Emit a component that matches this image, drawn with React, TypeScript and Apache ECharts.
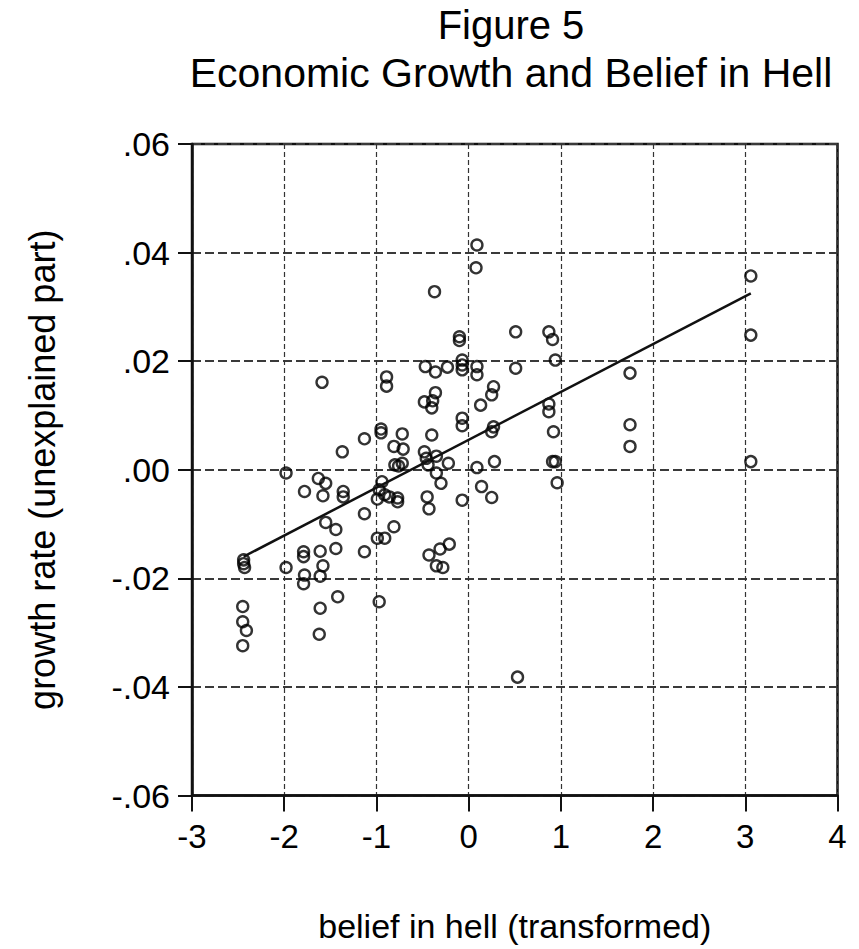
import React, { useEffect, useRef } from "react";
import * as echarts from "echarts";

// Belief in hell (transformed) — x values
const beliefInHell: number[] = [
  0.09, 0.08, -0.37, -0.10, -0.10, -0.07, -0.07, -0.07, -0.47, -0.36,
  -0.23, 0.09, 0.09, -1.59, -0.89, -0.89, 0.27, 0.25, 0.13, -0.36,
  -0.48, -0.39, -0.40, -0.07, -0.07, 0.27, 0.25, -0.95, -0.95, -0.72,
  -0.40, -1.13, -0.81, -0.71, -1.37, -0.48, -0.46, -0.35, -0.22, 0.09,
  0.28, -0.80, -0.72, -0.44, -0.76, -1.98, -1.63, -1.55, -1.78, -1.58,
  -1.36, -1.36, -0.35, -0.30, -0.94, -0.97, -0.91, -0.99, -0.86, -0.77,
  -0.77, -0.45, -0.43, -0.07, 0.14, 0.25, -1.55, -1.44, -1.13, -0.81,
  -0.99, -0.91, -1.79, -1.79, -1.61, -1.44, -1.13, -2.44, -2.44, -2.43,
  -1.98, -1.58, -1.78, -1.79, -1.61, -0.43, -0.31, -0.21, -0.35, -0.28,
  -1.42, -1.61, -0.97, -2.45, -2.45, -2.41, -2.45, -1.62, 3.06, 3.06,
  0.51, 0.87, 0.91, 0.94, 0.51, 1.75, 0.87, 0.87, 0.92, 1.75,
  1.75, 0.91, 0.94, 3.06, 0.96, 0.53,
];

// Growth rate (unexplained part) — y values
const growthRate: number[] = [
  0.0414, 0.0372, 0.0328, 0.0245, 0.0238, 0.0202, 0.0184, 0.0193, 0.0190, 0.0180,
  0.0189, 0.0190, 0.0175, 0.0161, 0.0171, 0.0154, 0.0153, 0.0138, 0.0119, 0.0142,
  0.0125, 0.0127, 0.0114, 0.0095, 0.0081, 0.0079, 0.0070, 0.0075, 0.0068, 0.0066,
  0.0064, 0.0057, 0.0043, 0.0038, 0.0033, 0.0033, 0.0021, 0.0025, 0.0012, 0.0004,
  0.0015, 0.0009, 0.0012, 0.0009, 0.0007, -0.0006, -0.0016, -0.0025, -0.0040, -0.0048,
  -0.0040, -0.0050, -0.0006, -0.0025, -0.0022, -0.0037, -0.0046, -0.0054, -0.0050, -0.0052,
  -0.0059, -0.0050, -0.0072, -0.0056, -0.0031, -0.0051, -0.0097, -0.0110, -0.0081, -0.0105,
  -0.0126, -0.0126, -0.0151, -0.0160, -0.0150, -0.0145, -0.0151, -0.0166, -0.0173, -0.0180,
  -0.0180, -0.0177, -0.0194, -0.0210, -0.0196, -0.0157, -0.0146, -0.0137, -0.0177, -0.0180,
  -0.0234, -0.0255, -0.0243, -0.0252, -0.0280, -0.0296, -0.0324, -0.0303, 0.0357, 0.0248,
  0.0254, 0.0254, 0.0240, 0.0202, 0.0187, 0.0178, 0.0121, 0.0107, 0.0070, 0.0083,
  0.0043, 0.0015, 0.0015, 0.0015, -0.0024, -0.0382,
];

// Fitted regression line endpoints
const fitLineX: number[] = [-2.44, 3.06];
const fitLineY: number[] = [-0.016, 0.0325];

// Axis ticks
const xTickValues: number[] = [-3, -2, -1, 0, 1, 2, 3, 4];
const xTickLabels: string[] = ["-3", "-2", "-1", "0", "1", "2", "3", "4"];
const yTickValues: number[] = [-0.06, -0.04, -0.02, 0, 0.02, 0.04, 0.06];
const yTickLabels: string[] = ["-.06", "-.04", "-.02", ".00", ".02", ".04", ".06"];

const titleLine1 = "Figure 5";
const titleLine2 = "Economic Growth and Belief in Hell";
const xAxisName = "belief in hell (transformed)";
const yAxisName = "growth rate (unexplained part)";

const FONT = '"Liberation Sans", Arial, Helvetica, sans-serif';

function lookup(values: number[], labels: string[], v: number): string {
  for (let i = 0; i < values.length; i++) {
    if (Math.abs(values[i] - v) < 1e-9) return labels[i];
  }
  return "";
}

export default function App() {
  const ref = useRef<HTMLDivElement>(null);

  useEffect(() => {
    if (!ref.current) return;
    const chart = echarts.init(ref.current, null, { renderer: "svg" });

    const points = beliefInHell.map((x, i) => [x, growthRate[i]]);
    const fit = fitLineX.map((x, i) => [x, fitLineY[i]]);

    chart.setOption({
      animation: false,
      backgroundColor: "#ffffff",
      graphic: [
        {
          type: "text",
          x: 511,
          y: 25,
          style: {
            text: titleLine1,
            font: `40px ${FONT}`,
            fill: "#000",
            align: "center",
            verticalAlign: "middle",
          },
        },
        {
          type: "text",
          x: 511,
          y: 73,
          style: {
            text: titleLine2,
            font: `41px ${FONT}`,
            fill: "#000",
            align: "center",
            verticalAlign: "middle",
          },
        },
      ],
      grid: {
        left: 192,
        top: 144,
        width: 645.5,
        height: 651.5,
        show: true,
        borderColor: "#111",
        borderWidth: 2.5,
        backgroundColor: "transparent",
        containLabel: false,
      },
      xAxis: {
        type: "value",
        min: -3,
        max: 4,
        interval: 1,
        name: xAxisName,
        nameLocation: "middle",
        nameGap: 113,
        nameTextStyle: { fontFamily: FONT, fontSize: 34, color: "#000" },
        axisLine: { show: true, onZero: false, lineStyle: { color: "#111", width: 2.5 } },
        axisTick: { show: true, inside: false, length: 16, lineStyle: { color: "#111", width: 2 } },
        axisLabel: {
          margin: 24,
          fontFamily: FONT,
          fontSize: 33,
          color: "#000",
          formatter: (v: number) => lookup(xTickValues, xTickLabels, v),
        },
        splitLine: { show: true, lineStyle: { color: "#333", width: 1.2, type: [5, 3] } },
      },
      yAxis: {
        type: "value",
        min: -0.06,
        max: 0.06,
        interval: 0.02,
        name: yAxisName,
        nameLocation: "middle",
        nameRotate: 90,
        nameGap: 132,
        nameTextStyle: { fontFamily: FONT, fontSize: 36, color: "#000" },
        axisLine: { show: true, onZero: false, lineStyle: { color: "#111", width: 2.5 } },
        axisTick: { show: true, inside: false, length: 14, lineStyle: { color: "#111", width: 2 } },
        axisLabel: {
          margin: 22,
          fontFamily: FONT,
          fontSize: 34,
          color: "#000",
          formatter: (v: number) => lookup(yTickValues, yTickLabels, v),
        },
        splitLine: { show: true, lineStyle: { color: "#3a3a3a", width: 1.8, type: [9, 4] } },
      },
      series: [
        {
          type: "scatter",
          data: points,
          symbol: "circle",
          symbolSize: 11,
          itemStyle: { color: "rgba(0,0,0,0)", borderColor: "#000", borderWidth: 2.4 },
          z: 3,
        },
        {
          type: "line",
          data: fit,
          symbol: "none",
          lineStyle: { color: "#111", width: 2.5 },
          z: 4,
        },
      ],
    });

    return () => chart.dispose();
  }, []);

  return (
    <div
      ref={ref}
      style={{ position: "absolute", left: 0, top: 0, width: 859, height: 949 }}
    />
  );
}
